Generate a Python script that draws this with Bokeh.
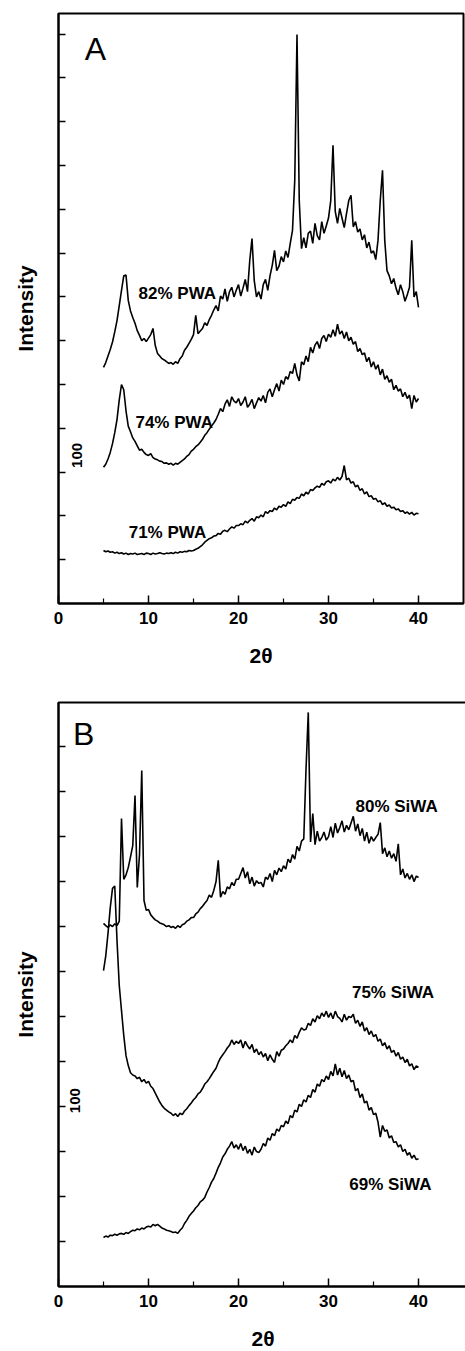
import math
from bokeh.plotting import figure
from bokeh.layouts import column
from bokeh.models import FixedTicker, Label, Range1d
from bokeh.embed import file_html
from bokeh.resources import INLINE

# 2-theta scan positions (degrees), 0.25 deg step from 5 to 40
two_theta = [round(5 + 0.25 * i, 2) for i in range(141)]

# Panel A: PWA composites (intensity, arbitrary counts; one tick = 100)
pwa_82 = [539, 550, 565, 580, 597, 620, 646, 680, 715, 748,
          750, 692, 668, 653, 640, 623, 612, 600, 605, 598,
          606, 614, 628, 589, 571, 565, 559, 556, 552, 548,
          550, 546, 552, 548, 559, 565, 578, 585, 594, 603,
          614, 658, 616, 622, 628, 641, 635, 648, 658, 670,
          680, 668, 702, 695, 718, 690, 712, 722, 700, 715,
          728, 702, 720, 740, 712, 783, 833, 737, 700, 712,
          695, 728, 740, 715, 748, 772, 806, 760, 770, 792,
          780, 805, 790, 822, 852, 966, 1299, 920, 810, 835,
          812, 845, 850, 822, 868, 840, 830, 872, 845, 862,
          880, 920, 1046, 895, 868, 902, 880, 858, 890, 920,
          932, 860, 872, 848, 855, 830, 842, 812, 825, 800,
          805, 785, 829, 920, 989, 829, 760, 748, 730, 742,
          720, 705, 728, 712, 690, 705, 722, 829, 700, 712,
          676]

pwa_74 = [311, 318, 330, 345, 365, 390, 420, 465, 500, 488,
          440, 405, 392, 378, 370, 360, 350, 352, 345, 340,
          338, 342, 333, 330, 328, 325, 324, 320, 321, 318,
          320, 316, 320, 318, 322, 326, 330, 336, 340, 348,
          352, 358, 362, 368, 375, 384, 390, 398, 405, 412,
          420, 432, 445, 438, 455, 465, 450, 472, 462, 458,
          468, 452, 460, 472, 448, 455, 466, 445, 458, 470,
          462, 475, 458, 482, 490, 472, 488, 502, 485, 510,
          500, 518, 512, 530, 525, 548, 522, 508, 552, 545,
          565, 552, 585, 572, 590, 598, 582, 605, 612, 598,
          615, 608, 625, 610, 638, 615, 622, 605, 620, 600,
          608, 592, 598, 575, 582, 568, 572, 552, 562, 540,
          552, 535, 545, 522, 535, 512, 520, 505, 512, 488,
          498, 485, 490, 472, 482, 468, 476, 445, 475, 460,
          468]

pwa_71 = [121, 118, 120, 117, 118, 115, 117, 114, 116, 113,
          115, 112, 114, 113, 115, 112, 113, 114, 112, 115,
          114, 112, 115, 113, 114, 116, 114, 113, 115, 114,
          116, 114, 117, 115, 118, 117, 119, 118, 121, 120,
          121, 124, 126, 130, 134, 140, 144, 148, 150, 154,
          155, 160, 158, 165, 167, 164, 170, 175, 172, 178,
          178, 182, 180, 188, 184, 190, 194, 188, 198, 196,
          202, 198, 210, 206, 212, 210, 218, 214, 222, 220,
          226, 222, 232, 228, 238, 236, 242, 240, 250, 246,
          254, 250, 260, 258, 264, 268, 265, 274, 270, 278,
          280, 275, 284, 280, 288, 282, 290, 315, 282, 286,
          275, 278, 266, 270, 258, 262, 250, 255, 244, 246,
          238, 240, 232, 235, 226, 230, 222, 225, 218, 220,
          214, 216, 210, 212, 206, 209, 204, 208, 202, 206,
          205]

# Panel B: SiWA composites
siwa_80 = [807, 802, 798, 804, 800, 806, 802, 812, 1040, 905,
           915, 931, 955, 980, 1091, 887, 960, 1147, 858, 836,
           838, 826, 820, 815, 812, 808, 806, 804, 800, 802,
           798, 800, 796, 802, 798, 804, 806, 812, 815, 820,
           820, 828, 832, 840, 845, 852, 858, 870, 865, 880,
           900, 947, 865, 878, 872, 888, 884, 898, 891, 905,
           905, 918, 931, 908, 922, 895, 910, 890, 902, 896,
           898, 888, 910, 905, 918, 900, 925, 915, 930, 922,
           935, 928, 950, 942, 960, 950, 978, 968, 990, 995,
           1150, 1276, 988, 1051, 982, 1012, 990, 998, 1010, 992,
           1000, 1022, 998, 1030, 1008, 1020, 1035, 1010, 1025, 1015,
           1030, 1045, 1012, 1028, 1002, 1018, 990, 1010, 985, 1000,
           990, 998, 1005, 1031, 962, 975, 955, 968, 952, 962,
           945, 984, 915, 928, 908, 918, 905, 915, 900, 912,
           909]

siwa_75 = [702, 735, 785, 842, 885, 890, 769, 669, 613, 558,
           513, 491, 475, 470, 468, 462, 465, 455, 460, 452,
           456, 445, 440, 430, 420, 410, 402, 396, 392, 388,
           385, 380, 384, 378, 385, 382, 390, 395, 402, 408,
           415, 420, 428, 432, 440, 450, 455, 462, 470, 478,
           485, 498, 508, 515, 522, 530, 536, 548, 538, 545,
           540, 548, 530, 545, 535, 528, 538, 520, 528, 515,
           522, 510, 518, 502, 515, 505, 498, 522, 512, 525,
           528, 535, 540, 548, 542, 558, 552, 565, 575, 570,
           572, 585, 580, 595, 588, 602, 595, 608, 600, 612,
           598, 608, 595, 612, 600, 596, 588, 605, 592, 600,
           598, 605, 585, 592, 578, 588, 568, 575, 560, 568,
           555, 560, 545, 550, 535, 542, 528, 535, 520, 525,
           512, 520, 505, 510, 498, 505, 490, 495, 482, 490,
           487]

siwa_69 = [109, 112, 110, 114, 113, 116, 114, 117, 118, 116,
           120, 118, 122, 125, 124, 128, 126, 130, 128, 132,
           134, 132, 138, 135, 138, 134, 130, 128, 125, 124,
           122, 120, 121, 118, 125, 130, 140, 147, 156, 162,
           168, 175, 180, 188, 192, 198, 210, 220, 232, 240,
           252, 265, 275, 288, 295, 305, 312, 322, 308, 315,
           305, 318, 302, 312, 296, 305, 292, 310, 300, 298,
           305, 318, 312, 330, 325, 340, 335, 350, 345, 358,
           355, 368, 362, 380, 375, 392, 388, 405, 400, 415,
           410, 425, 420, 438, 432, 450, 445, 460, 455, 468,
           460, 478, 468, 495, 470, 485, 466, 480, 462, 470,
           455, 458, 435, 440, 420, 428, 408, 412, 392, 398,
           382, 385, 365, 332, 358, 345, 348, 330, 335, 320,
           322, 310, 315, 300, 305, 292, 298, 285, 292, 282,
           284]

x_major = [0, 10, 20, 30, 40]
x_minor = [5, 15, 25, 35]
y_ticks_a = [100, 200, 300, 400, 500, 600, 700, 800, 900, 1000, 1100, 1200, 1300]
y_ticks_b = [100, 200, 300, 400, 500, 600, 700, 800, 900, 1000, 1100, 1200]

labels_a = [("82% PWA", 8.9, 708), ("74% PWA", 8.55, 413), ("71% PWA", 7.8, 162)]
labels_b = [("80% SiWA", 33.0, 1067), ("75% SiWA", 32.6, 653), ("69% SiWA", 32.3, 227)]

FONT = "Liberation Sans"


def make_panel(series, yticks, labels, letter, letter_xy, hundred_xy,
               x_end, y_end, frame_w, frame_h, b_left, b_top, b_bottom):
    p = figure(frame_width=frame_w, frame_height=frame_h,
               x_range=Range1d(0, x_end), y_range=Range1d(0, y_end),
               output_backend="svg", toolbar_location=None,
               min_border_left=b_left, min_border_right=2,
               min_border_top=b_top, min_border_bottom=b_bottom)
    p.background_fill_color = "white"
    p.border_fill_color = "white"
    p.outline_line_color = "black"
    p.outline_line_width = 2
    p.grid.visible = False

    for s in series:
        p.line(two_theta, s, line_color="black", line_width=1.6)

    xa = p.xaxis[0]
    xa.ticker = FixedTicker(ticks=x_major, minor_ticks=x_minor)
    xa.axis_line_width = 2
    xa.axis_line_color = "black"
    xa.major_tick_in = 8
    xa.major_tick_out = 0
    xa.minor_tick_in = 5
    xa.minor_tick_out = 0
    xa.major_tick_line_width = 1.5
    xa.minor_tick_line_width = 1.2
    xa.major_tick_line_color = "black"
    xa.minor_tick_line_color = "black"
    xa.major_label_text_font = FONT
    xa.major_label_text_font_size = "17px"
    xa.major_label_text_font_style = "bold"
    xa.major_label_text_color = "black"
    xa.major_label_standoff = 8
    xa.axis_label = "2θ"
    xa.axis_label_text_font = FONT
    xa.axis_label_text_font_size = "21px"
    xa.axis_label_text_font_style = "bold"
    xa.axis_label_text_color = "black"
    xa.axis_label_standoff = 17

    ya = p.yaxis[0]
    ya.ticker = FixedTicker(ticks=yticks, minor_ticks=[])
    ya.axis_line_width = 2
    ya.axis_line_color = "black"
    ya.major_tick_in = 7
    ya.major_tick_out = 0
    ya.major_tick_line_width = 1.5
    ya.major_tick_line_color = "black"
    ya.minor_tick_line_color = None
    ya.major_label_overrides = {t: "" for t in yticks}
    ya.major_label_standoff = 0
    ya.axis_label = "Intensity"
    ya.axis_label_text_font = FONT
    ya.axis_label_text_font_size = "21px"
    ya.axis_label_text_font_style = "bold"
    ya.axis_label_text_color = "black"
    ya.axis_label_standoff = 22

    for txt, x, y in labels:
        p.add_layout(Label(x=x, y=y, text=txt, text_font=FONT,
                           text_font_size="17px", text_font_style="bold",
                           text_baseline="middle",
                           text_align="left", text_color="black"))
    p.add_layout(Label(x=letter_xy[0], y=letter_xy[1], text=letter, text_font=FONT,
                       text_font_size="32px", text_baseline="middle",
                       text_align="center", text_color="black"))
    p.add_layout(Label(x=hundred_xy[0], y=hundred_xy[1], text="100", text_font=FONT,
                       text_font_size="15px", text_font_style="bold",
                       text_baseline="middle",
                       text_align="center", angle=math.pi / 2, text_color="black"))
    return p


pa = make_panel([pwa_82, pwa_74, pwa_71], y_ticks_a, labels_a, "A", (4.1, 1267), (2.1, 338),
                45.0, 1347, 405, 590, 58, 13, 77)
pb = make_panel([siwa_80, siwa_75, siwa_69], y_ticks_b, labels_b, "B", (2.8, 1227), (1.8, 413),
                45.44, 1298, 409, 584, 54, 22, 65)

layout = column(pa, pb, spacing=0)
open("out.html", "w").write(file_html(layout, INLINE))
